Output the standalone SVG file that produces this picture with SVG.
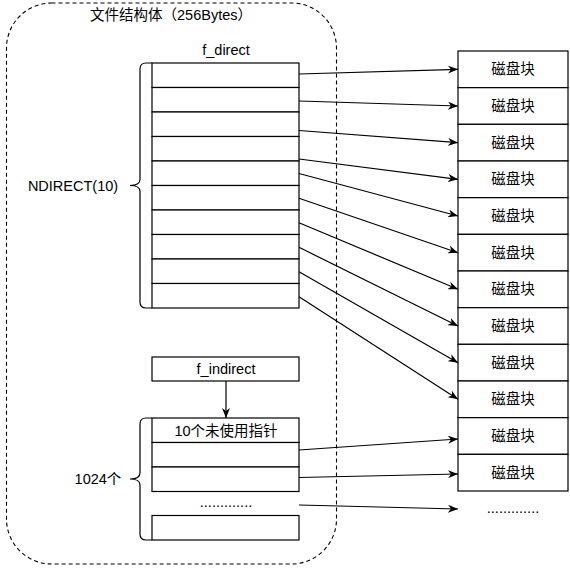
<svg xmlns="http://www.w3.org/2000/svg" width="570" height="571" viewBox="0 0 570 571">
<defs>
<style>
text{font-family:"Liberation Sans","Noto Sans CJK SC",sans-serif;font-size:14.5px;fill:#000;text-anchor:middle;dominant-baseline:central}
.box{fill:#fff;stroke:#000;stroke-width:1.2}
.edge{fill:none;stroke:#000;stroke-width:1.2}
.brace{fill:none;stroke:#000;stroke-width:1.2}
</style>
<marker id="arr" viewBox="0 0 10 8" refX="10" refY="4" markerWidth="10" markerHeight="8" markerUnits="userSpaceOnUse" orient="auto">
<path d="M0,0 L10,4 L0,8 L3,4 Z" fill="#000"/>
</marker>
</defs>
<rect width="570" height="571" fill="#fff"/>

<g id="container">
<rect x="6.5" y="3" width="330" height="561" rx="45" ry="45" fill="none" stroke="#000" stroke-width="1.1" stroke-dasharray="4 3"/>
<text x="171" y="15">文件结构体（256Bytes）</text>
</g>

<g id="f_direct">
<text x="226" y="50">f_direct</text>
<rect class="box" x="152" y="63" width="147" height="24.5"/>
<rect class="box" x="152" y="87.5" width="147" height="24.5"/>
<rect class="box" x="152" y="112" width="147" height="24.5"/>
<rect class="box" x="152" y="136.5" width="147" height="24.5"/>
<rect class="box" x="152" y="161" width="147" height="24.5"/>
<rect class="box" x="152" y="185.5" width="147" height="24.5"/>
<rect class="box" x="152" y="210" width="147" height="24.5"/>
<rect class="box" x="152" y="234.5" width="147" height="24.5"/>
<rect class="box" x="152" y="259" width="147" height="24.5"/>
<rect class="box" x="152" y="283.5" width="147" height="24.5"/>
</g>

<g id="ndirect-brace">
<path class="brace" d="M152,63 H146 Q140,63 140,69 V179.5 Q140,185.5 130,185.5 Q140,185.5 140,191.5 V302 Q140,308 146,308 H152"/>
<text x="73" y="185.5">NDIRECT(10)</text>
</g>

<g id="f_indirect">
<rect class="box" x="152" y="357" width="147" height="24"/>
<text x="226" y="369">f_indirect</text>
</g>

<g id="indirect-table">
<rect class="box" x="152" y="418" width="147" height="24.5"/>
<text x="226" y="430.5">10个未使用指针</text>
<rect class="box" x="152" y="442.5" width="147" height="24.5"/>
<rect class="box" x="152" y="467" width="147" height="24.5"/>
<text x="226" y="501.5">.............</text>
<rect class="box" x="152" y="515.5" width="147" height="24.5"/>
</g>

<g id="indirect-brace">
<path class="brace" d="M152,418 H146 Q140,418 140,424 V473 Q140,479 130,479 Q140,479 140,485 V534 Q140,540 146,540 H152"/>
<text x="98" y="479">1024个</text>
</g>

<g id="disk-blocks">
<g id="blk0"><rect class="box" x="458" y="51" width="110" height="36.67"/><text x="513" y="69.3">磁盘块</text></g>
<g id="blk1"><rect class="box" x="458" y="87.67" width="110" height="36.67"/><text x="513" y="106">磁盘块</text></g>
<g id="blk2"><rect class="box" x="458" y="124.33" width="110" height="36.67"/><text x="513" y="142.7">磁盘块</text></g>
<g id="blk3"><rect class="box" x="458" y="161" width="110" height="36.67"/><text x="513" y="179.3">磁盘块</text></g>
<g id="blk4"><rect class="box" x="458" y="197.67" width="110" height="36.67"/><text x="513" y="216">磁盘块</text></g>
<g id="blk5"><rect class="box" x="458" y="234.33" width="110" height="36.67"/><text x="513" y="252.7">磁盘块</text></g>
<g id="blk6"><rect class="box" x="458" y="271" width="110" height="36.67"/><text x="513" y="289.3">磁盘块</text></g>
<g id="blk7"><rect class="box" x="458" y="307.67" width="110" height="36.67"/><text x="513" y="326">磁盘块</text></g>
<g id="blk8"><rect class="box" x="458" y="344.33" width="110" height="36.67"/><text x="513" y="362.7">磁盘块</text></g>
<g id="blk9"><rect class="box" x="458" y="381" width="110" height="36.67"/><text x="513" y="399.3">磁盘块</text></g>
<g id="blk10"><rect class="box" x="458" y="417.67" width="110" height="36.67"/><text x="513" y="436">磁盘块</text></g>
<g id="blk11"><rect class="box" x="458" y="454.33" width="110" height="36.67"/><text x="513" y="472.7">磁盘块</text></g>
<text x="513" y="507.5">.............</text>
</g>

<g id="connectors">
<line class="edge" x1="299" y1="74" x2="458" y2="69.3" marker-end="url(#arr)"/>
<line class="edge" x1="299" y1="101" x2="458" y2="106" marker-end="url(#arr)"/>
<line class="edge" x1="299" y1="130.5" x2="458" y2="142.7" marker-end="url(#arr)"/>
<line class="edge" x1="299" y1="159" x2="458" y2="179.3" marker-end="url(#arr)"/>
<line class="edge" x1="299" y1="173.5" x2="458" y2="216" marker-end="url(#arr)"/>
<line class="edge" x1="299" y1="198.3" x2="458" y2="252.7" marker-end="url(#arr)"/>
<line class="edge" x1="299" y1="222.7" x2="458" y2="289.3" marker-end="url(#arr)"/>
<line class="edge" x1="299" y1="247.3" x2="458" y2="326" marker-end="url(#arr)"/>
<line class="edge" x1="299" y1="271.7" x2="458" y2="362.7" marker-end="url(#arr)"/>
<line class="edge" x1="299" y1="296.7" x2="458" y2="399.3" marker-end="url(#arr)"/>
<line class="edge" x1="226" y1="381" x2="226" y2="418" marker-end="url(#arr)"/>
<line class="edge" x1="299" y1="450" x2="458" y2="439" marker-end="url(#arr)"/>
<line class="edge" x1="299" y1="477.5" x2="458" y2="474" marker-end="url(#arr)"/>
<line class="edge" x1="299" y1="505" x2="458" y2="509" marker-end="url(#arr)"/>
</g>
</svg>
